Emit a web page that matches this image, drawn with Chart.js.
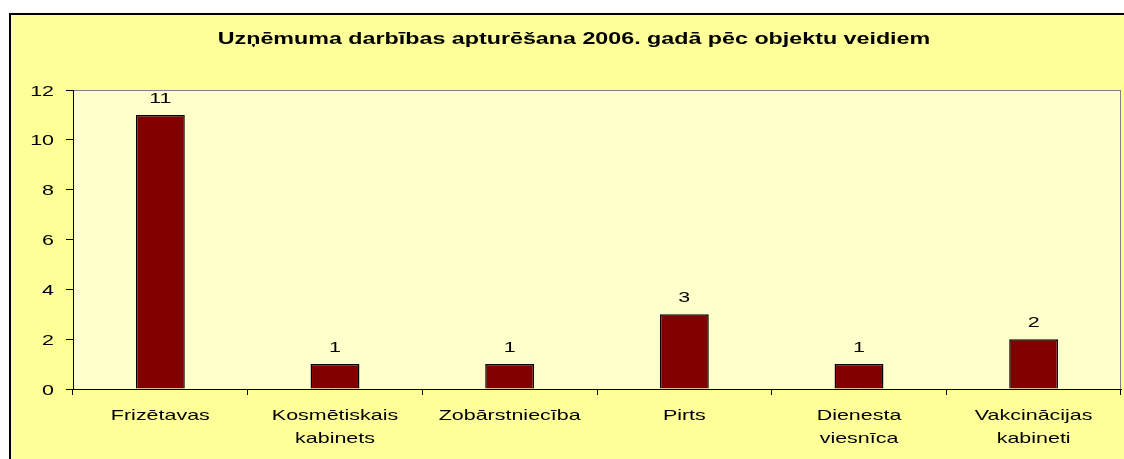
<!DOCTYPE html>
<html><head><meta charset="utf-8">
<script src="https://cdn.jsdelivr.net/npm/chart.js@4/dist/chart.umd.min.js"></script>
<style>html,body{margin:0;padding:0;background:#fff}#wrap{width:1124px;height:459px;position:relative}</style>
</head><body><div id="wrap"><canvas id="c"></canvas></div>
<script>
const titleText = 'Uzņēmuma darbības apturēšana 2006. gadā pēc objektu veidiem';
const categories = ['Frizētavas', ['Kosmētiskais','kabinets'], 'Zobārstniecība', 'Pirts', ['Dienesta','viesnīca'], ['Vakcinācijas','kabineti']];
const values = [11, 1, 1, 3, 1, 2];
const yTicks = [0, 2, 4, 6, 8, 10, 12];

const FONT = '"Liberation Sans", Arial, sans-serif';
const STRETCH = 1.43;

function stretchedText(ctx, text, x, y, align, sx) {
  ctx.save();
  ctx.translate(x, y);
  ctx.scale(sx, 1);
  ctx.textAlign = align;
  ctx.textBaseline = 'alphabetic';
  ctx.fillText(text, 0, 0);
  ctx.restore();
}

const bgPlugin = {
  id: 'bg',
  beforeDraw(chart) {
    const ctx = chart.ctx, a = chart.chartArea;
    ctx.save();
    ctx.fillStyle = '#fff';
    ctx.fillRect(0, 0, chart.width, chart.height);
    ctx.fillStyle = '#FFFF99';
    ctx.fillRect(9, 13, chart.width, chart.height);
    ctx.strokeStyle = '#000';
    ctx.lineWidth = 2;
    ctx.strokeRect(10, 14, chart.width + 10, chart.height + 10);
    ctx.fillStyle = '#FFFFCC';
    ctx.fillRect(a.left, a.top, a.right - a.left, a.bottom - a.top);
    ctx.strokeStyle = '#808080';
    ctx.lineWidth = 1;
    ctx.strokeRect(a.left + 0.5, a.top + 0.5, a.right - a.left - 1, a.bottom - a.top);
    ctx.fillStyle = '#000';
    ctx.font = 'bold 16.5px ' + FONT;
    stretchedText(ctx, titleText, 574, 44, 'center', 1.41);
    ctx.restore();
  }
};

const textPlugin = {
  id: 'texts',
  afterDraw(chart) {
    const ctx = chart.ctx;
    const xs = chart.scales.x, ys = chart.scales.y;
    ctx.save();
    ctx.fillStyle = '#000';
    ctx.font = '15px ' + FONT;
    // x tick labels
    xs.ticks.forEach((t, i) => {
      const lbl = categories[i];
      const lines = Array.isArray(lbl) ? lbl : [lbl];
      const x = xs.getPixelForTick(i);
      lines.forEach((ln, j) => stretchedText(ctx, ln, x, xs.top + 31 + j * 22.5, 'center', STRETCH));
    });
    // y tick labels
    ys.ticks.forEach(t => {
      const y = ys.getPixelForValue(t.value);
      stretchedText(ctx, String(t.value), 54, y + 5.5, 'right', STRETCH);
    });
    // value labels
    const meta = chart.getDatasetMeta(0);
    meta.data.forEach((bar, i) => {
      stretchedText(ctx, String(values[i]), bar.x, bar.y - 12, 'center', STRETCH);
    });
    ctx.restore();
  }
};

new Chart(document.getElementById('c'), {
  type: 'bar',
  data: {
    labels: categories,
    datasets: [{
      data: values,
      backgroundColor: '#800000',
      borderColor: '#000',
      borderWidth: 1.5,
      categoryPercentage: 1,
      barPercentage: 0.28
    }]
  },
  options: {
    responsive: true,
    maintainAspectRatio: false,
    animation: false,
    layout: { padding: { left: 0, top: 90, right: 3, bottom: 0 } },
    plugins: { legend: { display: false }, title: { display: false }, tooltip: { enabled: false } },
    scales: {
      x: {
        afterFit(s) { s.height = 70; },
        grid: { drawOnChartArea: false, tickLength: 6, color: '#000', offset: true },
        border: { color: '#000', width: 1 },
        ticks: { color: 'rgba(0,0,0,0)', font: { family: FONT, size: 15 }, padding: 7, maxRotation: 0, autoSkip: false }
      },
      y: {
        min: 0, max: 12,
        afterFit(s) { s.width = 73; },
        afterBuildTicks(s) { s.ticks = yTicks.map(v => ({ value: v })); },
        grid: { drawOnChartArea: false, tickLength: 7, color: '#000' },
        border: { color: '#000', width: 1 },
        ticks: { color: 'rgba(0,0,0,0)', font: { family: FONT, size: 15 }, padding: 9 }
      }
    }
  },
  plugins: [bgPlugin, textPlugin]
});
</script></body></html>
